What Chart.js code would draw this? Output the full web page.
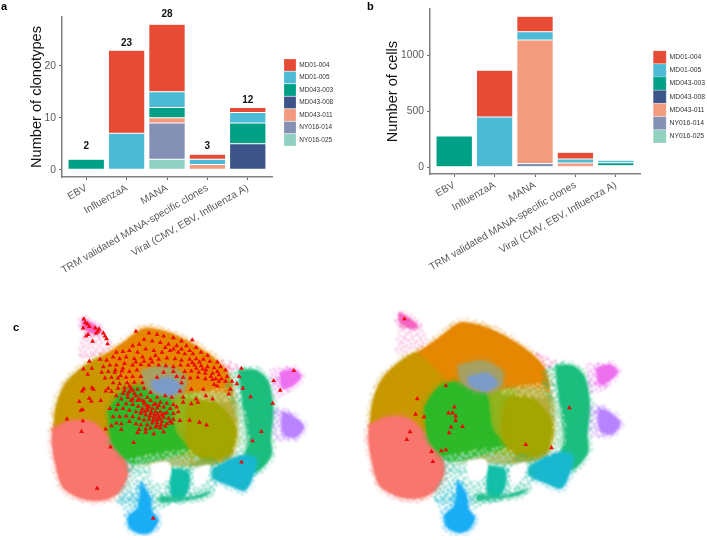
<!DOCTYPE html>
<html>
<head>
<meta charset="utf-8">
<script src="https://cdn.jsdelivr.net/npm/chart.js@4/dist/chart.umd.js"></script>
<style>
  body { margin: 0; background: #fff; font-family: "Liberation Sans", Arial, sans-serif; }
  #page { position: relative; width: 707px; height: 540px; overflow: hidden; }
  canvas { position: absolute; }
  .tag { position: absolute; font-weight: bold; font-size: 11px; color: #000; }
</style>
</head>
<body>
<div id="page">
  <canvas id="barA" width="350" height="290" style="left:0;top:0"></canvas>
  <canvas id="barB" width="357" height="290" style="left:350px;top:0"></canvas>
  <canvas id="umapA" width="350" height="240" style="left:0;top:300px"></canvas>
  <canvas id="umapB" width="357" height="240" style="left:350px;top:300px"></canvas>
  <span class="tag" style="left:1px;top:0">a</span>
  <span class="tag" style="left:367px;top:0">b</span>
  <span class="tag" style="left:13px;top:321px">c</span>
</div>
<script>
const categories = ['EBV', 'InfluenzaA', 'MANA', 'TRM validated MANA-specific clones', 'Viral (CMV, EBV, Influenza A)'];
const patients = ['MD01-004', 'MD01-005', 'MD043-003', 'MD043-008', 'MD043-011', 'NY016-014', 'NY016-025'];
const patientColors = ['#E64B35', '#4DBBD5', '#00A087', '#3C5488', '#F39B7F', '#8491B4', '#91D1C2'];

// clonotypes per patient, one value per category
const clonotypes = [
  [null, 16, 13, 1, 1],
  [null, 7, 3, 1, 2],
  [2, null, 2, null, 4],
  [null, null, null, null, 5],
  [null, null, 1, 1, null],
  [null, null, 7, null, null],
  [null, null, 2, null, null]
];
const clonotypeTotals = [2, 23, 28, 3, 12];
const totalLabelLevels = [4.6, 24.3, 29.9, 4.5, 13.4];

// cells per patient, one value per category
const cells = [
  [null, 418, 138, 61, 2],
  [null, 450, 73, 35, 22],
  [280, null, null, null, 26],
  [null, null, null, null, 14],
  [null, null, 1108, 38, null],
  [null, null, 32, null, null],
  [null, null, null, null, null]
];

// UMAP cluster outlines, back to front
const clusterColors = ['#C99800', '#E58700', '#b8ae3e', '#F8766D', '#94B31C', '#2DB928', '#A3A500', '#a8a060', '#7C9CC8',
  '#1CBE7E', '#1CBE7E', '#19B8D0', '#1ebea0', '#12BFA8', '#25c090', '#5ac8f5', '#1AAEF5',
  '#F78CCB', '#F564C0', '#EE70F0', '#EE70F0', '#B983FF', '#B983FF', '#F564C0', '#fff8e0', '#ffffff', '#fff4d0', '#ffffff', '#ffffff'];
// true = thin cloud of dots, false = dense patch
const clusterSparse = [false, false, false, false, false, false, false, false, false,
  true, false, false, true, false, false, true, false,
  true, false, true, false, true, false, true, true, true, true, false, false];
const clusterOutlines = [
  [[150,395],[158,320],[185,250],[240,195],[300,162],[410,165],[450,320],[360,430],[260,420],[190,410]],
  [[300,165],[360,122],[420,78],[450,74],[520,92],[590,128],[652,172],[690,215],[700,295],[600,330],[430,330],[370,230]],
  [[440,290],[700,285],[705,470],[640,500],[480,500],[400,480]],
  [[148,385],[200,362],[270,365],[330,420],[375,480],[382,530],[355,585],[305,610],[240,605],[180,570],[155,490],[146,430]],
  [[500,290],[600,285],[610,470],[540,470],[510,420]],
  [[318,330],[360,272],[420,255],[505,285],[530,400],[570,452],[470,485],[400,498],[365,475],[330,430]],
  [[585,295],[650,305],[705,365],[716,420],[686,472],[620,486],[565,445],[555,390],[565,320]],
  [[420,205],[500,190],[560,225],[550,275],[480,285],[430,255]],
  [[450,240],[510,228],[545,258],[512,285],[460,268]],
  [[685,210],[760,200],[770,510],[715,480],[720,400],[698,310],[680,270]],
  [[720,205],[775,205],[812,240],[828,330],[820,420],[822,470],[775,522],[735,495],[745,430],[735,340]],
  [[640,510],[720,470],[775,480],[760,550],[738,580],[700,568],[640,540]],
  [[370,480],[560,470],[660,490],[640,590],[560,610],[470,640],[420,640],[345,610],[378,530]],
  [[515,508],[565,520],[570,560],[550,605],[515,600],[510,550]],
  [[480,595],[560,600],[635,582],[610,600],[520,612],[480,615]],
  [[345,610],[420,560],[445,640],[390,680]],
  [[420,550],[450,600],[455,640],[475,670],[452,708],[420,714],[385,695],[380,660],[410,630]],
  [[243,45],[322,105],[330,140],[240,170],[228,150],[240,90]],
  [[240,42],[270,58],[300,85],[285,95],[255,85],[240,70]],
  [[815,200],[890,200],[880,270],[830,290]],
  [[845,212],[890,202],[914,225],[880,258],[855,262]],
  [[825,320],[880,335],[900,415],[830,420]],
  [[855,335],[885,345],[922,380],[897,414],[860,408],[850,370]],
  [[660,165],[730,195],[690,215]],
  [[700,300],[745,340],[750,450],[700,480],[712,400]],
  [[380,480],[560,450],[600,480],[560,500],[420,510]],
  [[540,285],[680,260],[700,300],[600,300]],
  [[450,495],[505,490],[512,525],[490,555],[455,548]],
  [[580,515],[630,500],[625,540],[590,570]]
];

// dot positions of the repeating cloud texture
const cloudDots = [
  [1,2],[5,0],[9,3],[13,1],[18,2],[22,0],[26,3],[3,6],[7,5],[11,7],[15,5],[20,6],[24,7],[28,5],
  [0,10],[4,9],[8,11],[12,10],[17,9],[21,11],[25,9],[2,14],[6,13],[10,15],[14,13],[19,14],[23,13],[27,15],
  [1,18],[5,17],[9,19],[13,17],[16,19],[20,18],[24,17],[28,19],[3,22],[7,21],[11,23],[15,21],[18,23],[22,21],[26,22],
  [0,26],[4,25],[8,27],[12,25],[16,27],[20,25],[24,27],[27,25],[2,28],[10,28],[18,28],[6,24],[14,24],[22,25],[28,11]
];

// red triangles, left panel
const trianglesA = [
  [245,47],[250,58],[256,62],[243,75],[262,70],[280,75],[288,85],[292,78],[283,90],[305,90],[310,100],[315,108],[258,95],[252,100],[272,116],[318,124],
  [405,85],[193,357],[242,363],[238,396],[327,444],[286,572],[398,430],[458,665],[729,491],[763,425],[790,396],[825,308],[848,268],[828,238],[890,207],
  [757,288],[733,262],[729,200],[722,225],[622,376],[600,367],[570,361],[540,362],[231,303],[236,330],[242,328],[240,270],[245,263],[270,260],[275,265],
  [262,293],[268,302],[244,202],[270,200],[257,218],[262,178],[297,300],
  [445,90],[470,95],[490,100],[520,105],[545,115],[578,112],[430,110],[455,115],[480,120],[505,125],[530,130],[560,130],[590,135],[415,125],[395,130],
  [345,150],[365,148],[385,145],[410,150],[435,140],[460,145],[485,150],[510,145],[535,150],[555,155],[580,155],[605,150],[625,160],[335,165],[355,170],
  [375,165],[400,170],[425,165],[450,170],[475,172],[500,168],[525,170],[545,175],[570,172],[590,170],[612,172],[632,178],[655,180],[295,172],[315,175],
  [305,195],[325,190],[345,190],[370,185],[395,190],[420,188],[445,190],[475,190],[497,192],[520,195],[542,190],[565,190],[585,190],[605,192],[625,195],
  [645,198],[665,195],[680,205],[300,212],[320,210],[340,212],[362,208],[385,210],[408,205],[490,212],[520,210],[555,210],[575,208],[598,212],[618,215],
  [640,215],[660,220],[685,225],[310,230],[330,228],[350,230],[375,228],[395,225],[420,225],[530,225],[550,228],[572,230],[595,228],[618,232],[640,235],
  [660,240],[680,240],[700,240],[715,248],[335,245],[355,248],[378,245],[400,243],[425,245],[470,228],[545,245],[645,250],[655,255],[695,265],[690,280],
  [320,262],[312,270],[330,272],[350,262],[370,260],[390,262],[410,265],[430,262],[450,275],[540,270],[575,265],[612,265],[345,285],[365,278],[385,272],
  [400,278],[420,282],[440,290],[470,290],[495,285],[515,290],[550,290],[590,295],[595,305],[620,285],[640,295],[360,295],[380,290],[395,295],[410,300],
  [430,303],[450,300],[430,310],[445,318],[460,312],[480,305],[500,308],[520,312],[350,312],[375,310],[395,312],[412,318],[425,325],[440,330],[455,325],
  [470,322],[490,320],[510,325],[530,320],[550,305],[325,325],[345,328],[365,325],[385,330],[405,335],[420,340],[435,345],[450,340],[465,335],[480,335],
  [500,338],[520,340],[535,335],[575,310],[335,350],[355,350],[375,348],[395,350],[415,355],[430,360],[445,358],[460,352],[475,350],[490,352],[505,355],
  [520,358],[345,370],[360,372],[385,365],[405,372],[420,375],[440,375],[455,370],[470,368],[485,365],[500,372],[515,370],[330,378],[312,388],[360,390],
  [415,390],[435,388],[450,385],[465,382],[480,385],[495,380],[435,398],[460,403],[490,397],[410,400],[510,365],
  [385,255],[395,268],[380,280],[405,285],[390,300],[370,270],[415,295],[425,300],[438,315],[452,335],[462,345],[472,342],[485,345],[478,358],[492,340],
  [468,358],[482,375],[458,362],[448,348],[470,378],[440,322],[432,335],[422,332],[465,310],[475,315],[342,205],[358,222],[600,180],[610,202],[590,200],
  [578,182],[620,205],[635,225],[650,232],[668,232],[655,210],[365,200],[405,180],[430,178],[455,180],[465,160],[495,135],[520,140],[545,140],[570,145]
];
// red triangles, right panel
const trianglesB = [
  [258,64],[385,267],[297,307],[411,332],[292,354],[318,362],[393,350],[405,350],[415,359],[415,373],[401,393],[436,391],
  [275,407],[265,431],[395,410],[341,467],[371,465],[385,462],[345,498],[630,446],[709,456],[764,334]
];

const totalsPlugin = {
  id: 'totals',
  afterDatasetsDraw(chart) {
    const { ctx, scales } = chart;
    ctx.save();
    ctx.font = 'bold 10px "Liberation Sans"';
    ctx.fillStyle = '#111';
    ctx.textAlign = 'center';
    ctx.textBaseline = 'middle';
    clonotypeTotals.forEach((t, i) => {
      ctx.fillText(t, scales.x.getPixelForValue(i + 1), scales.y.getPixelForValue(totalLabelLevels[i]));
    });
    ctx.restore();
  }
};

// moves the legend to where it sits in the figure
function legendAt(left, top) {
  return {
    id: 'legendAt',
    afterLayout(chart) {
      const l = chart.legend;
      const h = l.height;
      l.left = left; l.right = chart.width;
      l.top = top; l.bottom = top + h;
      l.width = chart.width - left;
    }
  };
}

function barChart(id, rows, cfg, plugins) {
  const datasets = rows.map((vals, i) => ({
    label: patients[i],
    data: vals.map((v, k) => ({ x: k + 1, y: v })).filter(p => p.y !== null),
    backgroundColor: patientColors[i],
    borderColor: 'rgba(255,255,255,0.4)',
    borderWidth: 0.5,
    borderSkipped: false,
    barPercentage: 0.9,
    categoryPercentage: 1
  })).reverse();

  return new Chart(document.getElementById(id), {
    type: 'bar',
    data: { datasets },
    plugins: plugins,
    options: {
      responsive: false,
      animation: false,
      layout: { autoPadding: false, padding: { top: cfg.top, right: cfg.right, left: 0, bottom: 0 } },
      plugins: {
        tooltip: { enabled: false },
        legend: {
          position: 'chartArea',
          align: 'start',
          reverse: true,
          labels: {
            boxWidth: cfg.swatch,
            boxHeight: cfg.swatch,
            padding: cfg.legendGap,
            color: '#333',
            font: { size: cfg.legendFont, family: '"Liberation Sans"' }
          }
        }
      },
      scales: {
        x: {
          type: 'linear',
          offset: false,
          stacked: true,
          min: 0.4,
          max: 5.6,
          afterBuildTicks: s => { s.ticks = categories.map((c, i) => ({ value: i + 1 })); },
          afterFit: s => { s.height = cfg.xHeight; s.paddingLeft = 0; s.paddingRight = 0; },
          border: { color: '#808080', width: 1.5 },
          grid: { offset: false, drawOnChartArea: false, tickLength: 3, tickColor: '#666' },
          ticks: {
            autoSkip: false,
            maxRotation: 30,
            minRotation: 30,
            padding: 2,
            color: '#5a5a5a',
            font: { size: 10.2, family: '"Liberation Sans"' },
            callback: v => categories[v - 1]
          }
        },
        y: {
          stacked: true,
          min: cfg.yMin,
          max: cfg.yMax,
          afterBuildTicks: s => { s.ticks = cfg.yTicks.map(v => ({ value: v })); },
          afterFit: s => { s.width = cfg.yWidth; },
          border: { color: '#808080', width: 1.5 },
          grid: { drawOnChartArea: false, tickLength: 3, tickColor: '#666' },
          title: {
            display: true,
            text: cfg.yTitle,
            color: '#111',
            padding: { top: cfg.titlePad, bottom: 0 },
            font: { size: 14.6, family: '"Liberation Sans"', weight: 'normal' }
          },
          ticks: {
            padding: 3,
            color: '#5a5a5a',
            font: { size: 10.3, family: '"Liberation Sans"' },
            callback: v => String(v)
          }
        }
      }
    }
  });
}

barChart('barA', clonotypes, {
  top: 17, right: 78, xHeight: 113, yWidth: 62, yMin: -1.4, yMax: 29.4, yTicks: [0, 10, 20],
  yTitle: 'Number of clonotypes', titlePad: 28, swatch: 12, legendGap: 0.5, legendFont: 6.5
}, [totalsPlugin, legendAt(283.5, 58.5)]);

barChart('barB', cells, {
  top: 6, right: 67, xHeight: 116, yWidth: 80, yMin: -61, yMax: 1415, yTicks: [0, 500, 1000],
  yTitle: 'Number of cells', titlePad: 34, swatch: 13, legendGap: 0.2, legendFont: 6.8
}, [legendAt(303, 50.5)]);

// repeating dotted fill in one colour
function cloudPattern(color, alpha) {
  const tile = document.createElement('canvas');
  tile.width = 29;
  tile.height = 29;
  const c = tile.getContext('2d');
  c.fillStyle = color;
  c.globalAlpha = alpha;
  cloudDots.forEach(d => c.fillRect(d[0], d[1], 2.2, 2.2));
  return c.createPattern(tile, 'repeat');
}

// softening of the clusters, off again for the triangles
const softEdges = {
  id: 'softEdges',
  beforeDatasetsDraw(chart) { chart.ctx.filter = 'blur(1.2px)'; },
  beforeDatasetDraw(chart, args) {
    if (args.meta.controller.getDataset().isTriangles) chart.ctx.filter = 'none';
  },
  afterDatasetsDraw(chart) { chart.ctx.filter = 'none'; }
};

function umapChart(id, triangles, xRange, yRange) {
  const datasets = clusterOutlines.map((outline, i) => ({
    data: outline.concat([outline[0]]).map(p => ({ x: p[0], y: p[1] })),
    showLine: true,
    fill: 'shape',
    tension: 0.3,
    borderWidth: clusterSparse[i] || clusterColors[i] === '#ffffff' ? 0 : 8,
    pointRadius: 0,
    backgroundColor: clusterSparse[i] ? cloudPattern(clusterColors[i], 0.75) : clusterColors[i],
    borderColor: cloudPattern(clusterColors[i], 0.55),
    order: clusterOutlines.length - i
  }));
  datasets.push({
    isTriangles: true,
    data: triangles.map(p => ({ x: p[0], y: p[1] })),
    pointStyle: 'triangle',
    pointRadius: 2.8,
    borderWidth: 0,
    backgroundColor: '#ee0a0a',
    order: -1
  });

  return new Chart(document.getElementById(id), {
    type: 'scatter',
    data: { datasets },
    plugins: [softEdges],
    options: {
      responsive: false,
      animation: false,
      plugins: { legend: { display: false }, tooltip: { enabled: false } },
      scales: {
        x: { display: false, min: xRange[0], max: xRange[1] },
        y: { display: false, min: yRange[0], max: yRange[1], reverse: true }
      }
    }
  });
}

umapChart('umapA', trianglesA, [0, 1050], [0, 720]);
umapChart('umapB', trianglesB, [103, 1174], [18.6, 723.8]);
</script>
</body>
</html>
